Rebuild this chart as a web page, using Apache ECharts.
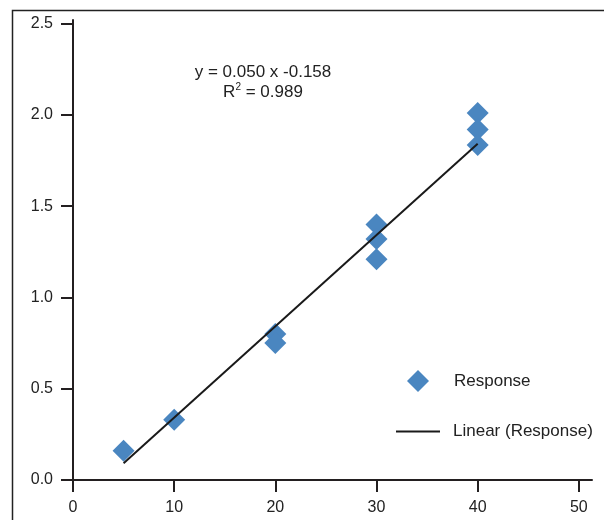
<!DOCTYPE html>
<html>
<head>
<meta charset="utf-8">
<style>
  html, body { margin: 0; padding: 0; background: #fff; }
  #chart { width: 604px; height: 520px; }
</style>
<script src="https://cdn.jsdelivr.net/npm/echarts@6/dist/echarts.min.js"></script>
</head>
<body>
<div id="chart"></div>
<script>
// measured points (x = concentration, y = response)
var responseX = [5, 10, 20, 20, 30, 30, 30, 40, 40, 40];
var responseY = [0.16, 0.33, 0.80, 0.75, 1.40, 1.32, 1.21, 2.01, 1.92, 1.835];

// trendline from the fitted equation
var slope = 0.050;
var intercept = -0.158;
var trendX = [5, 40];

var xTicks = [0, 10, 20, 30, 40, 50];
var yTicks = [0, 0.5, 1.0, 1.5, 2.0, 2.5];

var fontFam = '"Liberation Sans", Arial, sans-serif';
var ink = '#231f20';

var scatterData = responseX.map(function (x, i) { return [x, responseY[i]]; });
var trendData = trendX.map(function (x) { return [x, slope * x + intercept]; });

var chart = echarts.init(document.getElementById('chart'));
chart.setOption({
    animation: false,
    textStyle: { fontFamily: fontFam },
    grid: { left: 73, right: 12, top: 20, bottom: 40 },
    xAxis: {
        type: 'value', min: 0, max: 51.3,
        splitLine: { show: false },
        axisLine: { lineStyle: { color: ink, width: 2 } },
        axisTick: { length: 12, customValues: xTicks, lineStyle: { color: ink, width: 2 } },
        axisLabel: { customValues: xTicks, margin: 20, fontSize: 16, color: '#222', fontFamily: fontFam }
    },
    yAxis: {
        type: 'value', min: 0, max: 2.52,
        splitLine: { show: false },
        axisLine: { show: true, lineStyle: { color: ink, width: 2 } },
        axisTick: { show: true, length: 12, customValues: yTicks, lineStyle: { color: ink, width: 2 } },
        axisLabel: {
            customValues: yTicks, margin: 20, fontSize: 16, color: '#222', fontFamily: fontFam,
            formatter: function (v) { return v.toFixed(1); }
        }
    },
    legend: [
        {
            data: [{ name: 'Response', icon: 'diamond' }],
            orient: 'vertical', left: 402, top: 365,
            itemWidth: 22, itemHeight: 22,
            textStyle: { fontSize: 17, color: '#222', fontFamily: fontFam, padding: [0, 0, 0, 20] }
        },
        {
            data: [{ name: 'Linear (Response)', icon: 'rect' }],
            orient: 'vertical', left: 391, top: 418,
            itemWidth: 44, itemHeight: 2,
            textStyle: { fontSize: 17, color: '#222', fontFamily: fontFam, padding: [0, 0, 0, 8] }
        }
    ],
    graphic: [
        {
            type: 'rect', left: 10, top: 8, silent: true,
            shape: { width: 620, height: 540 },
            style: { fill: 'none', stroke: '#222', lineWidth: 1.5 }
        },
        {
            type: 'text', x: 263, y: 62, silent: true,
            style: {
                text: 'y = 0.050 x -0.158\nR{sup|2} = 0.989',
                align: 'center', fontSize: 17, lineHeight: 20, fill: '#222', fontFamily: fontFam,
                rich: { sup: { fontSize: 10, verticalAlign: 'top', fontFamily: fontFam, fill: '#222' } }
            }
        }
    ],
    series: [
        {
            name: 'Response', type: 'scatter',
            symbol: 'diamond', symbolSize: 22,
            itemStyle: { color: '#4a86c0', opacity: 1 },
            data: scatterData
        },
        {
            name: 'Linear (Response)', type: 'line',
            symbol: 'none',
            itemStyle: { color: '#1a1a1a' },
            lineStyle: { color: '#1a1a1a', width: 2 },
            data: trendData
        }
    ]
});
</script>
</body>
</html>
